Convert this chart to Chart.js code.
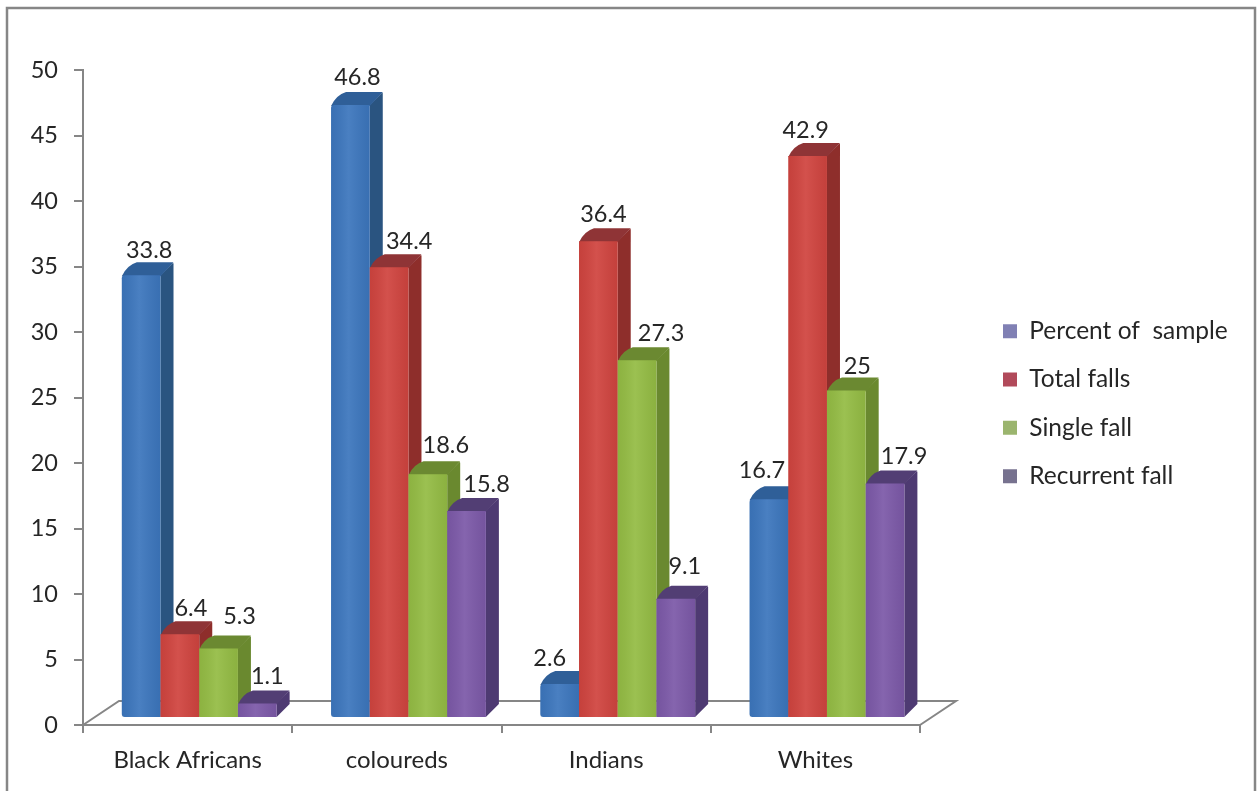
<!DOCTYPE html>
<html>
<head>
<meta charset="utf-8">
<title>Falls by population group</title>
<script src="https://cdn.jsdelivr.net/npm/chart.js@4"></script>
<style>
  html, body { margin: 0; padding: 0; background: #fff; overflow: hidden; }
  #wrap { width: 1259px; height: 791px; }
</style>
</head>
<body>
<div id="wrap"><canvas id="chart" width="1259" height="791"></canvas></div>
<script>
const categories = ['Black Africans', 'coloureds', 'Indians', 'Whites'];
const percentOfSample = [33.8, 46.8, 2.6, 16.7];
const totalFalls = [6.4, 34.4, 36.4, 42.9];
const singleFall = [5.3, 18.6, 27.3, 25];
const recurrentFall = [1.1, 15.8, 9.1, 17.9];
const valueTicks = [0, 5, 10, 15, 20, 25, 30, 35, 40, 45, 50];

// Hand-placed value label nudges, [x, y] per category, one list per series.
const labelNudge = [
  [[8, -25], [7, -27], [-10, -26], [-7, -29]],
  [[11, -26], [20, -26], [5, -27], [-2, -26]],
  [[21, -32], [18, -29], [24, -27], [11, -24]],
  [[10, -27], [20, -27], [9, -32], [19, -27]]
];

const FONT = 'Lato, Carlito, "Open Sans", sans-serif';
const AXIS = '#868686';
const INK = '#262626';

// Extrusion of each bar and its offset from the flat axis plane.
const DEPTH = 13;
const SHIFT_X = 11.6;
const SHIFT_Y = -7;
const FLOOR_X = 36;
const FLOOR_Y = -24;

const faces = [
  { front: '#3c76bd', side: '#2a5480', top: '#2f5f98', swatch: '#8080b4' },
  { front: '#d0443f', side: '#8e2e2b', top: '#8f3436', swatch: '#b14a5a' },
  { front: '#94bc44', side: '#6a892f', top: '#6b8931', swatch: '#9bb56e' },
  { front: '#7c59a8', side: '#4e3a72', top: '#523e74', swatch: '#77728f' }
];

const bars3d = {
  id: 'bars3d',
  beforeLayout(chart) {
    // The legend column keeps a fixed width so the plot ends where it should.
    const legend = chart.legend;
    if (legend && !legend.__fixed) {
      const fit = legend.fit;
      legend.fit = function () { fit.call(this); this.width = 339; };
      legend.__fixed = true;
    }
  },
  afterLayout(chart) {
    const legend = chart.legend;
    const pad = legend.options.labels.padding;
    legend.left = 1003 - pad;
    legend.right = 1259;
    legend.top = 319 - pad;
    legend.bottom = 791;
  },
  beforeDraw(chart) {
    const { ctx, chartArea: a } = chart;
    ctx.save();
    // outer frame, open along the bottom edge
    ctx.strokeStyle = AXIS;
    ctx.lineWidth = 2.5;
    ctx.beginPath();
    ctx.moveTo(7, 791);
    ctx.lineTo(7, 8);
    ctx.lineTo(1255, 8);
    ctx.lineTo(1255, 791);
    ctx.stroke();
    // floor of the plot
    ctx.lineWidth = 2;
    ctx.beginPath();
    ctx.moveTo(a.left, a.bottom);
    ctx.lineTo(a.left + FLOOR_X, a.bottom + FLOOR_Y);
    ctx.lineTo(a.right + FLOOR_X, a.bottom + FLOOR_Y);
    ctx.lineTo(a.right, a.bottom);
    ctx.stroke();
    ctx.restore();
  },
  beforeDatasetDraw() {
    // Painted together in beforeDatasetsDraw, front series last.
    return false;
  },
  beforeDatasetsDraw(chart) {
    const { ctx } = chart;
    ctx.save();
    ctx.translate(SHIFT_X, SHIFT_Y);
    chart.data.datasets.forEach((ds, i) => {
      const meta = chart.getDatasetMeta(i);
      const face = faces[i];
      meta.data.forEach(el => {
        const x0 = el.x - el.width / 2;
        const x1 = el.x + el.width / 2;
        ctx.fillStyle = face.side;
        ctx.beginPath();
        ctx.moveTo(x1, el.y);
        ctx.lineTo(x1 + DEPTH - 1, el.y - DEPTH + 1);
        ctx.quadraticCurveTo(x1 + DEPTH, el.y - DEPTH, x1 + DEPTH, el.y - DEPTH + 2);
        ctx.lineTo(x1 + DEPTH, el.base - DEPTH);
        ctx.lineTo(x1, el.base);
        ctx.closePath();
        ctx.fill();
        // top face, its far left corner softened like a bevel
        ctx.fillStyle = face.top;
        ctx.beginPath();
        ctx.moveTo(x0, el.y + 1);
        ctx.quadraticCurveTo(x0 + 5, el.y - DEPTH + 3, x0 + DEPTH + 2, el.y - DEPTH);
        ctx.lineTo(x1 + DEPTH, el.y - DEPTH);
        ctx.lineTo(x1, el.y + 1);
        ctx.closePath();
        ctx.fill();
      });
      meta.controller.draw();
      // soft cylinder-like shading across each front face
      meta.data.forEach(el => {
        const x0 = el.x - el.width / 2;
        const g = ctx.createLinearGradient(x0, 0, x0 + el.width, 0);
        g.addColorStop(0, 'rgba(0,0,0,0.05)');
        g.addColorStop(0.45, 'rgba(255,255,255,0.07)');
        g.addColorStop(1, 'rgba(0,0,0,0.06)');
        ctx.fillStyle = g;
        ctx.fillRect(x0, el.y, el.width, el.base - el.y);
      });
    });
    ctx.restore();
  },
  afterDatasetsDraw(chart) {
    const { ctx } = chart;
    ctx.save();
    ctx.font = '23.5px ' + FONT;
    ctx.fillStyle = INK;
    ctx.textAlign = 'center';
    ctx.textBaseline = 'middle';
    chart.data.datasets.forEach((ds, i) => {
      chart.getDatasetMeta(i).data.forEach((el, j) => {
        const [nx, ny] = labelNudge[i][j];
        ctx.fillText(String(ds.data[j]), el.x + SHIFT_X + nx, el.y + SHIFT_Y + ny);
      });
    });
    ctx.restore();
  }
};

const series = [
  ['Percent of  sample', percentOfSample],
  ['Total falls', totalFalls],
  ['Single fall', singleFall],
  ['Recurrent fall', recurrentFall]
];

new Chart(document.getElementById('chart'), {
  type: 'bar',
  data: {
    labels: categories,
    datasets: series.map(([label, data], i) => ({
      label,
      data,
      backgroundColor: faces[i].front,
      borderWidth: 0,
      borderRadius: i === 0 ? { topLeft: 3, bottomLeft: 3 } : 0,
      borderSkipped: false,
      categoryPercentage: 0.74,
      barPercentage: 1
    }))
  },
  options: {
    responsive: false,
    animation: false,
    layout: { padding: { top: 70, left: 0, right: 0, bottom: 0 } },
    scales: {
      x: {
        afterFit(s) { s.height = 66; },
        grid: { drawOnChartArea: false, drawTicks: true, tickLength: 8, color: AXIS, lineWidth: 2 },
        border: { color: AXIS, width: 2 },
        ticks: { color: INK, font: { family: FONT, size: 24 }, padding: 13, maxRotation: 0, autoSkip: false }
      },
      y: {
        min: 0,
        max: 50,
        afterFit(s) { s.width = 83; },
        afterBuildTicks(s) { s.ticks = valueTicks.map(value => ({ value })); },
        grid: { drawOnChartArea: false, drawTicks: true, tickLength: 9, color: AXIS, lineWidth: 2 },
        border: { color: AXIS, width: 2 },
        ticks: { color: INK, font: { family: FONT, size: 23.5 }, padding: 16 }
      }
    },
    plugins: {
      title: { display: false },
      tooltip: { enabled: false },
      legend: {
        position: 'right',
        align: 'start',
        labels: {
          color: INK,
          font: { family: FONT, size: 24.5 },
          boxWidth: 14,
          boxHeight: 14,
          padding: 23.8,
          generateLabels(chart) {
            return chart.data.datasets.map((ds, i) => ({
              text: ds.label,
              fillStyle: faces[i].swatch,
              strokeStyle: faces[i].swatch,
              lineWidth: 0,
              fontColor: INK,
              datasetIndex: i,
              hidden: false
            }));
          }
        }
      }
    }
  },
  plugins: [bars3d]
});
</script>
</body>
</html>
